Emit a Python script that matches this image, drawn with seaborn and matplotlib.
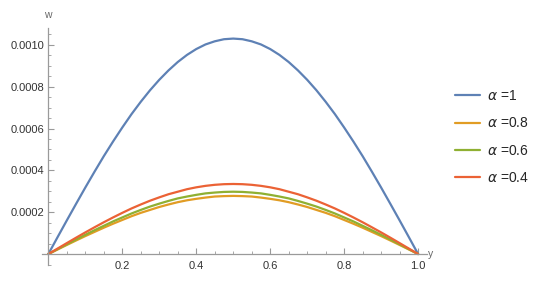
import numpy as np
import pandas as pd
import matplotlib
matplotlib.use("Agg")
import matplotlib.pyplot as plt
import seaborn as sns
from matplotlib.ticker import FixedLocator, FixedFormatter, MultipleLocator

# ---- data ----
y_vals = [0.0, 0.025, 0.05, 0.075, 0.1, 0.125, 0.15, 0.175, 0.2, 0.225, 0.25,
          0.275, 0.3, 0.325, 0.35, 0.375, 0.4, 0.425, 0.45, 0.475, 0.5,
          0.525, 0.55, 0.575, 0.6, 0.625, 0.65, 0.675, 0.7, 0.725, 0.75,
          0.775, 0.8, 0.825, 0.85, 0.875, 0.9, 0.925, 0.95, 0.975, 1.0]
w_a1 = [0.0, 0.0000809, 0.000161, 0.000240, 0.000318, 0.000394, 0.000468, 0.000538,
        0.000605, 0.000669, 0.000728, 0.000783, 0.000833, 0.000878, 0.000918,
        0.000952, 0.000980, 0.001002, 0.001017, 0.001027, 0.001030,
        0.001027, 0.001017, 0.001002, 0.000980, 0.000952, 0.000918, 0.000878,
        0.000833, 0.000783, 0.000728, 0.000669, 0.000605, 0.000538, 0.000468,
        0.000394, 0.000318, 0.000240, 0.000161, 0.0000809, 0.0]
w_a08 = [0.0, 0.0000218, 0.0000435, 0.0000649, 0.0000859, 0.000106, 0.000126, 0.000145,
         0.000163, 0.000181, 0.000197, 0.000211, 0.000225, 0.000237, 0.000248,
         0.000257, 0.000264, 0.000270, 0.000275, 0.000277, 0.000278,
         0.000277, 0.000275, 0.000270, 0.000264, 0.000257, 0.000248, 0.000237,
         0.000225, 0.000211, 0.000197, 0.000181, 0.000163, 0.000145, 0.000126,
         0.000106, 0.0000859, 0.0000649, 0.0000435, 0.0000218, 0.0]
w_a06 = [0.0, 0.0000234, 0.0000466, 0.0000696, 0.0000921, 0.000114, 0.000135, 0.000156,
         0.000175, 0.000194, 0.000211, 0.000227, 0.000241, 0.000254, 0.000266,
         0.000275, 0.000283, 0.000290, 0.000294, 0.000297, 0.000298,
         0.000297, 0.000294, 0.000290, 0.000283, 0.000275, 0.000266, 0.000254,
         0.000241, 0.000227, 0.000211, 0.000194, 0.000175, 0.000156, 0.000135,
         0.000114, 0.0000921, 0.0000696, 0.0000466, 0.0000234, 0.0]
w_a04 = [0.0, 0.0000263, 0.0000524, 0.0000782, 0.0001035, 0.000128, 0.000152, 0.000175,
         0.000197, 0.000218, 0.000237, 0.000255, 0.000271, 0.000286, 0.000298,
         0.000310, 0.000319, 0.000326, 0.000331, 0.000334, 0.000335,
         0.000334, 0.000331, 0.000326, 0.000319, 0.000310, 0.000298, 0.000286,
         0.000271, 0.000255, 0.000237, 0.000218, 0.000197, 0.000175, 0.000152,
         0.000128, 0.0001035, 0.0000782, 0.0000524, 0.0000263, 0.0]
series_labels = [r"$\alpha$ =1", r"$\alpha$ =0.8", r"$\alpha$ =0.6", r"$\alpha$ =0.4"]
series_values = [w_a1, w_a08, w_a06, w_a04]
colors = ["#5E81B5", "#E19C24", "#8FB032", "#EB6235"]

x_ticks = [0.2, 0.4, 0.6, 0.8, 1.0]
x_tick_labels = ["0.2", "0.4", "0.6", "0.8", "1.0"]
y_ticks = [0.0002, 0.0004, 0.0006, 0.0008, 0.0010]
y_tick_labels = ["0.0002", "0.0004", "0.0006", "0.0008", "0.0010"]

rows = []
for lab, vals in zip(series_labels, series_values):
    for yv, wv in zip(y_vals, vals):
        rows.append({"y": yv, "w": wv, "series": lab})
df = pd.DataFrame(rows)

sns.set_style("white")
plt.rcParams["font.family"] = ["Liberation Sans", "DejaVu Sans"]

fig = plt.figure(figsize=(5.4, 2.9), dpi=100)
ax = fig.add_axes([0.0772, 0.086, 0.790 - 0.0772, 0.903 - 0.086])

sns.lineplot(data=df, x="y", y="w", hue="series", hue_order=series_labels,
             palette=colors, linewidth=1.6, ax=ax, legend=False, sort=False,
             estimator=None)
for ln in ax.get_lines():
    ln.set_solid_joinstyle("round")
    ln.set_solid_capstyle("round")

ax.set_xlim(-0.018, 1.023)
ax.set_ylim(-0.0000526, 0.00108)

for s in ["top", "right"]:
    ax.spines[s].set_visible(False)
ax.spines["left"].set_position(("data", 0))
ax.spines["bottom"].set_position(("data", 0))
for s in ["left", "bottom"]:
    ax.spines[s].set_color("#9a9a9a")
    ax.spines[s].set_linewidth(0.9)

ax.xaxis.set_major_locator(FixedLocator(x_ticks))
ax.xaxis.set_major_formatter(FixedFormatter(x_tick_labels))
ax.yaxis.set_major_locator(FixedLocator(y_ticks))
ax.yaxis.set_major_formatter(FixedFormatter(y_tick_labels))
ax.xaxis.set_minor_locator(MultipleLocator(0.05))
ax.yaxis.set_minor_locator(MultipleLocator(0.00005))

ax.tick_params(axis="both", which="both", bottom=True, left=True, top=False,
               right=False)
ax.tick_params(axis="both", which="major", direction="in", length=4, width=0.8,
               color="#9a9a9a", labelsize=8, labelcolor="#333333")
ax.tick_params(axis="both", which="minor", direction="in", length=2.2, width=0.6,
               color="#9a9a9a")
ax.tick_params(axis="x", which="major", pad=5)
ax.tick_params(axis="y", which="major", pad=3)
ax.set_xlabel("")
ax.set_ylabel("")
ax.grid(False)

fig.text(48 / 540, 1 - 15 / 290, "w", ha="center", va="center", fontsize=7.5,
         color="#666666")
fig.text(428 / 540, 1 - 254 / 290, "y", ha="left", va="center", fontsize=7.5,
         color="#666666")

handles = [plt.Line2D([], [], color=c, linewidth=1.6) for c in colors]
fig.legend(handles, series_labels, loc="center left",
           bbox_to_anchor=(455 / 540, 1 - 137 / 290), frameon=False,
           borderaxespad=0, borderpad=0, fontsize=10, handlelength=1.8,
           handletextpad=0.5, labelspacing=0.95)

fig.savefig("out.png", dpi=100)
